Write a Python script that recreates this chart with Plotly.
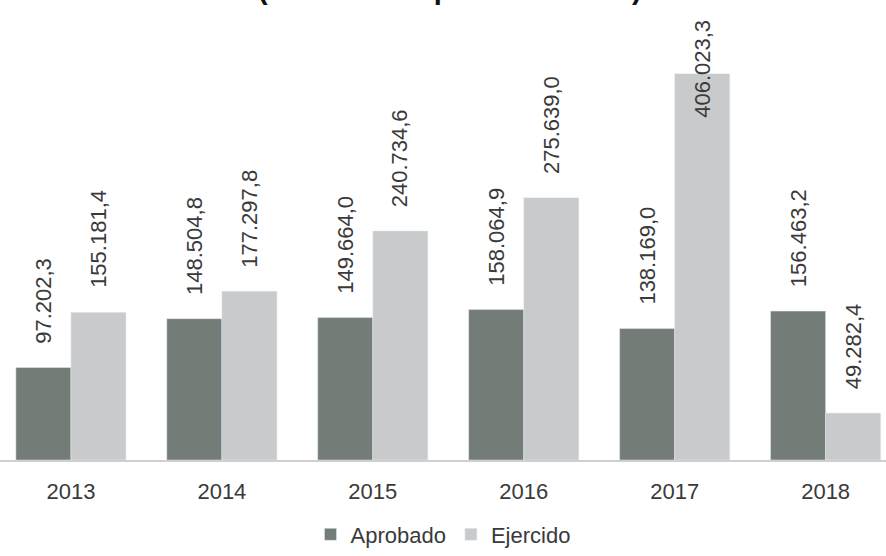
import plotly.graph_objects as go

years = ["2013", "2014", "2015", "2016", "2017", "2018"]
aprobado = [97202.3, 148504.8, 149664.0, 158064.9, 138169.0, 156463.2]
ejercido = [155181.4, 177297.8, 240734.6, 275639.0, 406023.3, 49282.4]
title_text = "(Millones de pesos de 2018)"

C_APR = "#737c77"
C_EJE = "#c8cacc"
TXT = "#3a3a3a"
FONT = "Liberation Sans"

def fmt(v):
    s = f"{v:,.1f}"
    return s.replace(",", "X").replace(".", ",").replace("X", ".")

fig = go.Figure()
fig.add_trace(go.Bar(x=years, y=aprobado, name="Aprobado", marker_color=C_APR))
fig.add_trace(go.Bar(x=years, y=ejercido, name="Ejercido", marker_color=C_EJE))

LABEL_CAP = 334700
half = 27.6
annots = []
for series, shift in ((aprobado, -half), (ejercido, half)):
    for i, v in enumerate(series):
        annots.append(dict(x=i, y=min(v, LABEL_CAP), xref="x", yref="y",
                           text=fmt(v), textangle=-90, showarrow=False,
                           xanchor="center", yanchor="bottom", xshift=shift, yshift=22,
                           font=dict(family=FONT, size=22, color=TXT)))
annots.append(dict(x=0.508, y=1, xref="paper", yref="paper", text="<b>" + title_text + "</b>",
                   showarrow=False, xanchor="center", yanchor="bottom", yshift=-7,
                   font=dict(family=FONT, size=29, color="#111111")))

fig.update_layout(
    width=886, height=556,
    margin=dict(l=0, r=0, t=0, b=91),
    paper_bgcolor="white", plot_bgcolor="white",
    barmode="group", bargap=0.27, bargroupgap=0,
    font=dict(family=FONT, color=TXT),
    showlegend=True,
    legend=dict(orientation="h", x=0.5, xanchor="center", y=-0.162, yanchor="middle",
                font=dict(family=FONT, size=22, color=TXT), itemwidth=30),
    annotations=annots,
)
fig.update_xaxes(type="category", range=[-0.47, 5.40], showline=True, linecolor="#cfcfcf",
                 linewidth=1.5, showgrid=False, ticks="", ticklabelstandoff=11,
                 tickfont=dict(family=FONT, size=22, color=TXT))
fig.update_yaxes(range=[0, 483400], visible=False, showgrid=False)

fig.write_html("out.html")
